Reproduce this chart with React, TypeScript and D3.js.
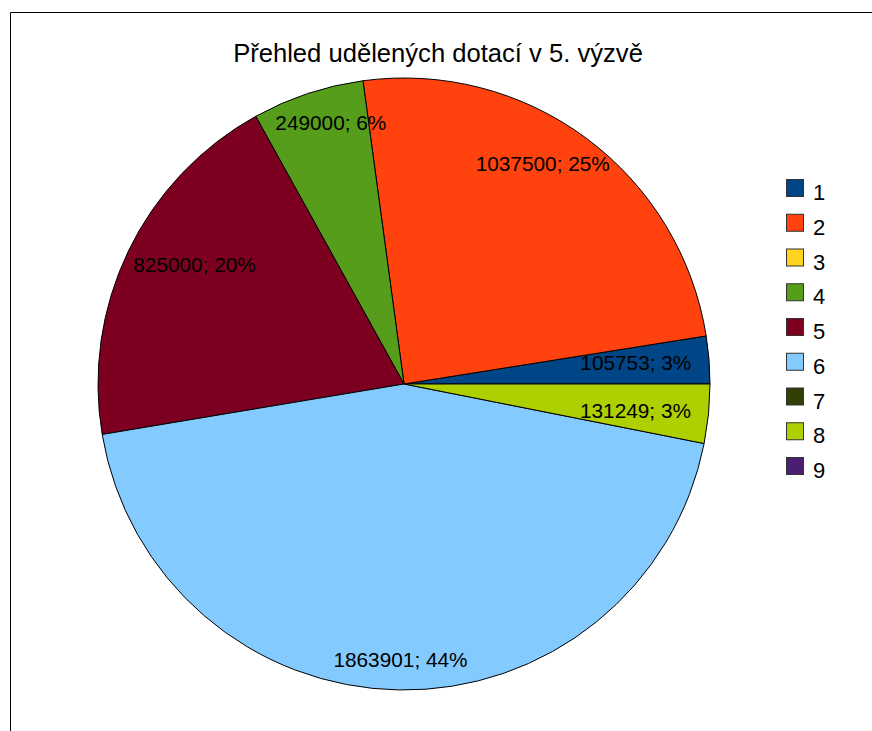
import React from 'react'
import * as d3 from 'd3'

const title = 'Přehled udělených dotací v 5. výzvě'
const categories = ['1', '2', '3', '4', '5', '6', '7', '8', '9']
const values = [105753, 1037500, 0, 249000, 825000, 1863901, 0, 131249, 0]
const colors = ['#004586', '#ff420e', '#ffd320', '#579d1c', '#7e0021', '#83caff', '#314004', '#aecf00', '#4b1f6f']

const W = 872
const H = 731
const cx = 404
const cy = 384
const R = 306
const font = '"Liberation Sans", Arial, sans-serif'

function App() {
  const total = d3.sum(values)
  // counterclockwise from 3 o'clock, like the office chart
  const pie = d3.pie<number>().sort(null).startAngle(Math.PI / 2).endAngle(Math.PI / 2 - 2 * Math.PI)
  const arcs = pie(values)
  const arc = d3.arc<d3.PieArcDatum<number>>().innerRadius(0).outerRadius(R)
  const fmtPct = (v: number) => Math.round((v / total) * 100) + '%'

  const legendY = d3.scalePoint<string>().domain(categories).range([179, 457])

  return (
    <div style={{ position: 'absolute', left: 0, top: 0 }}>
      <svg width={W} height={H} style={{ display: 'block', fontFamily: font }}>
        <rect x={0} y={0} width={W} height={H} fill="#fff" />
        <path d={`M10.5,${H} V12.5 H${W}`} fill="none" stroke="#000" strokeWidth={1} />
        <text x={438} y={62} textAnchor="middle" fontSize={25.6} fill="#000">{title}</text>
        <g transform={`translate(${cx},${cy})`}>
          {arcs.filter(a => a.value > 0).map((a, i) => (
            <path key={i} d={arc(a) || ''} fill={colors[a.index]} stroke="#000" strokeWidth={1} />
          ))}
          {arcs.filter(a => a.value > 0).map((a, i) => {
            const m = (a.startAngle + a.endAngle) / 2
            const x = Math.sin(m) * R * 0.76
            const y = -Math.cos(m) * R * 0.9
            return (
              <text key={i} x={x} y={y} textAnchor="middle" dominantBaseline="central" fontSize={20.8} fill="#000">
                {`${a.value}; ${fmtPct(a.value)}`}
              </text>
            )
          })}
        </g>
        <g>
          {categories.map((c, i) => (
            <g key={c} transform={`translate(786,${legendY(c)})`}>
              <rect x={0.5} y={0.5} width={17} height={17} fill={colors[i]} stroke="#333" strokeWidth={1} />
              <text x={27} y={21} fontSize={22} fill="#000">{c}</text>
            </g>
          ))}
        </g>
      </svg>
    </div>
  )
}

export default App
